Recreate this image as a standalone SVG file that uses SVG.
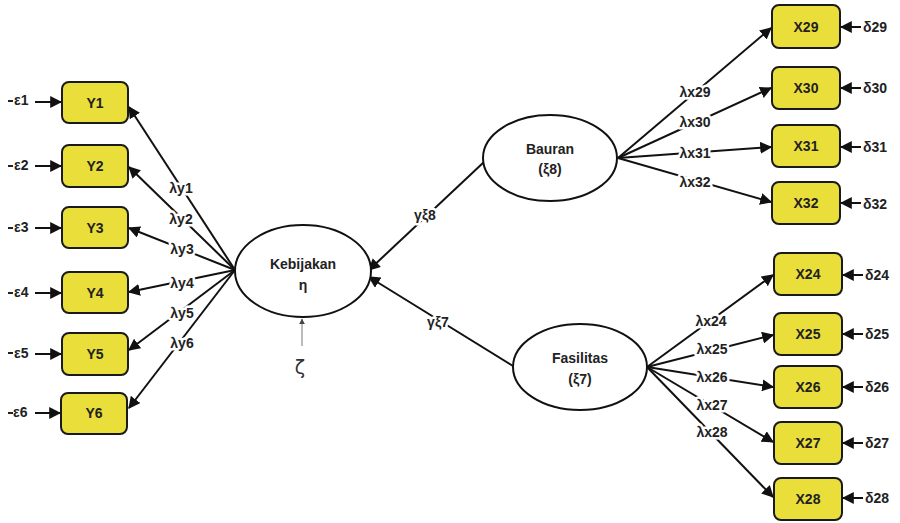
<svg xmlns="http://www.w3.org/2000/svg" width="900" height="523" viewBox="0 0 900 523">
<style>
.box{fill:#EADF3A;stroke:#1a1a1a;stroke-width:2}
.ell{fill:#fff;stroke:#111;stroke-width:2}
.bt{font-family:"Liberation Sans",Arial,sans-serif;font-weight:bold;font-size:14px;fill:#222;text-anchor:middle;dominant-baseline:central}
.lb{font-family:"Liberation Sans",Arial,sans-serif;font-weight:bold;font-size:14px;fill:#222;text-anchor:middle;dominant-baseline:central;paint-order:stroke;stroke:#fff;stroke-width:5px;stroke-linejoin:round}
.et{font-family:"Liberation Sans",Arial,sans-serif;font-weight:bold;font-size:14px;fill:#222;dominant-baseline:central}
.cn{stroke:#111;stroke-width:2;fill:none;marker-end:url(#ah)}
</style>
<defs>
<marker id="ah" viewBox="0 0 10 10" refX="9" refY="5" markerWidth="6" markerHeight="6" orient="auto" markerUnits="strokeWidth"><path d="M0,0L10,5L0,10z" fill="#111"/></marker>
<marker id="ahg" viewBox="0 0 10 10" refX="9" refY="5" markerWidth="6" markerHeight="6" orient="auto" markerUnits="strokeWidth"><path d="M0,0L10,5L0,10z" fill="#444"/></marker>
</defs>
<rect width="900" height="523" fill="#fff"/>

<g id="connectors">
<line class="cn" x1="235" y1="270" x2="129" y2="107"/>
<line class="cn" x1="235" y1="270" x2="129" y2="167"/>
<line class="cn" x1="235" y1="270" x2="129" y2="228"/>
<line class="cn" x1="235" y1="270" x2="129" y2="292"/>
<line class="cn" x1="235" y1="270" x2="129" y2="350"/>
<line class="cn" x1="235" y1="270" x2="129" y2="408"/>
<line x1="8" y1="101" x2="13" y2="101" stroke="#222" stroke-width="2"/>
<line x1="8" y1="166" x2="13" y2="166" stroke="#222" stroke-width="2"/>
<line x1="8" y1="228" x2="13" y2="228" stroke="#222" stroke-width="2"/>
<line x1="8" y1="293" x2="13" y2="293" stroke="#222" stroke-width="2"/>
<line x1="8" y1="353" x2="13" y2="353" stroke="#222" stroke-width="2"/>
<line x1="8" y1="413" x2="13" y2="413" stroke="#222" stroke-width="2"/>
<line class="cn" x1="35" y1="102" x2="61" y2="102"/>
<line class="cn" x1="35" y1="166" x2="61" y2="166"/>
<line class="cn" x1="35" y1="228" x2="61" y2="228"/>
<line class="cn" x1="35" y1="293" x2="61" y2="293"/>
<line class="cn" x1="35" y1="354" x2="61" y2="354"/>
<line class="cn" x1="35" y1="413" x2="60" y2="413"/>
<line class="cn" x1="484" y1="162" x2="369" y2="270"/>
<line class="cn" x1="513" y1="366" x2="369" y2="277"/>
<line x1="302" y1="346" x2="302" y2="319" stroke="#777" stroke-width="1" marker-end="url(#ahg)"/>
<line class="cn" x1="618" y1="158" x2="771" y2="28"/>
<line class="cn" x1="618" y1="158" x2="771" y2="88"/>
<line class="cn" x1="618" y1="158" x2="771" y2="147"/>
<line class="cn" x1="618" y1="158" x2="771" y2="202"/>
<line class="cn" x1="647" y1="367" x2="773" y2="275"/>
<line class="cn" x1="647" y1="367" x2="773" y2="335"/>
<line class="cn" x1="647" y1="367" x2="773" y2="387"/>
<line class="cn" x1="647" y1="367" x2="773" y2="442"/>
<line class="cn" x1="647" y1="367" x2="773" y2="497"/>
<line class="cn" x1="861" y1="27" x2="841" y2="27"/>
<line class="cn" x1="861" y1="88" x2="841" y2="88"/>
<line class="cn" x1="861" y1="147" x2="841" y2="147"/>
<line class="cn" x1="861" y1="203" x2="841" y2="203"/>
<line class="cn" x1="863" y1="275" x2="843" y2="275"/>
<line class="cn" x1="863" y1="334" x2="843" y2="334"/>
<line class="cn" x1="863" y1="387" x2="843" y2="387"/>
<line class="cn" x1="863" y1="443" x2="843" y2="443"/>
<line class="cn" x1="863" y1="498" x2="843" y2="498"/>
<text class="lb" x="181" y="188">λy1</text>
<text class="lb" x="181" y="219">λy2</text>
<text class="lb" x="182" y="249">λy3</text>
<text class="lb" x="182" y="283">λy4</text>
<text class="lb" x="182" y="313">λy5</text>
<text class="lb" x="182" y="343">λy6</text>
<text class="lb" x="425" y="215">γξ8</text>
<text class="lb" x="438" y="322">γξ7</text>
<text class="lb" x="695" y="92">λx29</text>
<text class="lb" x="695" y="122">λx30</text>
<text class="lb" x="695" y="153">λx31</text>
<text class="lb" x="695" y="182">λx32</text>
<text class="lb" x="711" y="321">λx24</text>
<text class="lb" x="712" y="349">λx25</text>
<text class="lb" x="712" y="377">λx26</text>
<text class="lb" x="712" y="405">λx27</text>
<text class="lb" x="712" y="432">λx28</text>
</g>

<g id="Y1"><rect class="box" x="62" y="82" width="66" height="41" rx="7"/><text class="bt" x="95" y="103">Y1</text><text class="et" x="14" y="100">ε1</text></g>
<g id="Y2"><rect class="box" x="62" y="145" width="66" height="42" rx="7"/><text class="bt" x="95" y="166">Y2</text><text class="et" x="14" y="165">ε2</text></g>
<g id="Y3"><rect class="box" x="62" y="207" width="66" height="41" rx="7"/><text class="bt" x="95" y="228">Y3</text><text class="et" x="14" y="227">ε3</text></g>
<g id="Y4"><rect class="box" x="62" y="272" width="66" height="41" rx="7"/><text class="bt" x="95" y="293">Y4</text><text class="et" x="14" y="292">ε4</text></g>
<g id="Y5"><rect class="box" x="62" y="333" width="66" height="42" rx="7"/><text class="bt" x="95" y="354">Y5</text><text class="et" x="14" y="353">ε5</text></g>
<g id="Y6"><rect class="box" x="61" y="393" width="66" height="41" rx="7"/><text class="bt" x="94" y="413">Y6</text><text class="et" x="13" y="412">ε6</text></g>

<g id="Kebijakan"><ellipse class="ell" cx="303" cy="271" rx="68" ry="46"/><text class="bt" x="303" y="264">Kebijakan</text><text class="bt" x="303" y="285">η</text></g>
<g id="zeta"><text x="300" y="367" font-family="'DejaVu Sans',sans-serif" font-size="19" fill="#333" text-anchor="middle" dominant-baseline="central">ζ</text></g>

<g id="Bauran"><ellipse class="ell" cx="550" cy="158" rx="67" ry="43"/><text class="bt" x="550" y="149">Bauran</text><text class="bt" x="550" y="169">(ξ8)</text></g>
<g id="Fasilitas"><ellipse class="ell" cx="580" cy="367" rx="67" ry="43"/><text class="bt" x="580" y="358">Fasilitas</text><text class="bt" x="580" y="379">(ξ7)</text></g>

<g id="X29"><rect class="box" x="772" y="5" width="68" height="43" rx="7"/><text class="bt" x="806" y="27">X29</text><text class="et" x="863" y="27">δ29</text></g>
<g id="X30"><rect class="box" x="772" y="67" width="68" height="42" rx="7"/><text class="bt" x="806" y="88">X30</text><text class="et" x="863" y="88">δ30</text></g>
<g id="X31"><rect class="box" x="772" y="125" width="68" height="42" rx="7"/><text class="bt" x="806" y="146">X31</text><text class="et" x="863" y="147">δ31</text></g>
<g id="X32"><rect class="box" x="772" y="182" width="68" height="42" rx="7"/><text class="bt" x="806" y="203">X32</text><text class="et" x="863" y="204">δ32</text></g>
<g id="X24"><rect class="box" x="774" y="253" width="68" height="42" rx="7"/><text class="bt" x="808" y="274">X24</text><text class="et" x="865" y="275">δ24</text></g>
<g id="X25"><rect class="box" x="774" y="313" width="68" height="42" rx="7"/><text class="bt" x="808" y="334">X25</text><text class="et" x="865" y="334">δ25</text></g>
<g id="X26"><rect class="box" x="774" y="366" width="68" height="42" rx="7"/><text class="bt" x="808" y="387">X26</text><text class="et" x="865" y="387">δ26</text></g>
<g id="X27"><rect class="box" x="774" y="422" width="68" height="42" rx="7"/><text class="bt" x="808" y="443">X27</text><text class="et" x="865" y="443">δ27</text></g>
<g id="X28"><rect class="box" x="774" y="478" width="68" height="42" rx="7"/><text class="bt" x="808" y="499">X28</text><text class="et" x="865" y="498">δ28</text></g>
</svg>
